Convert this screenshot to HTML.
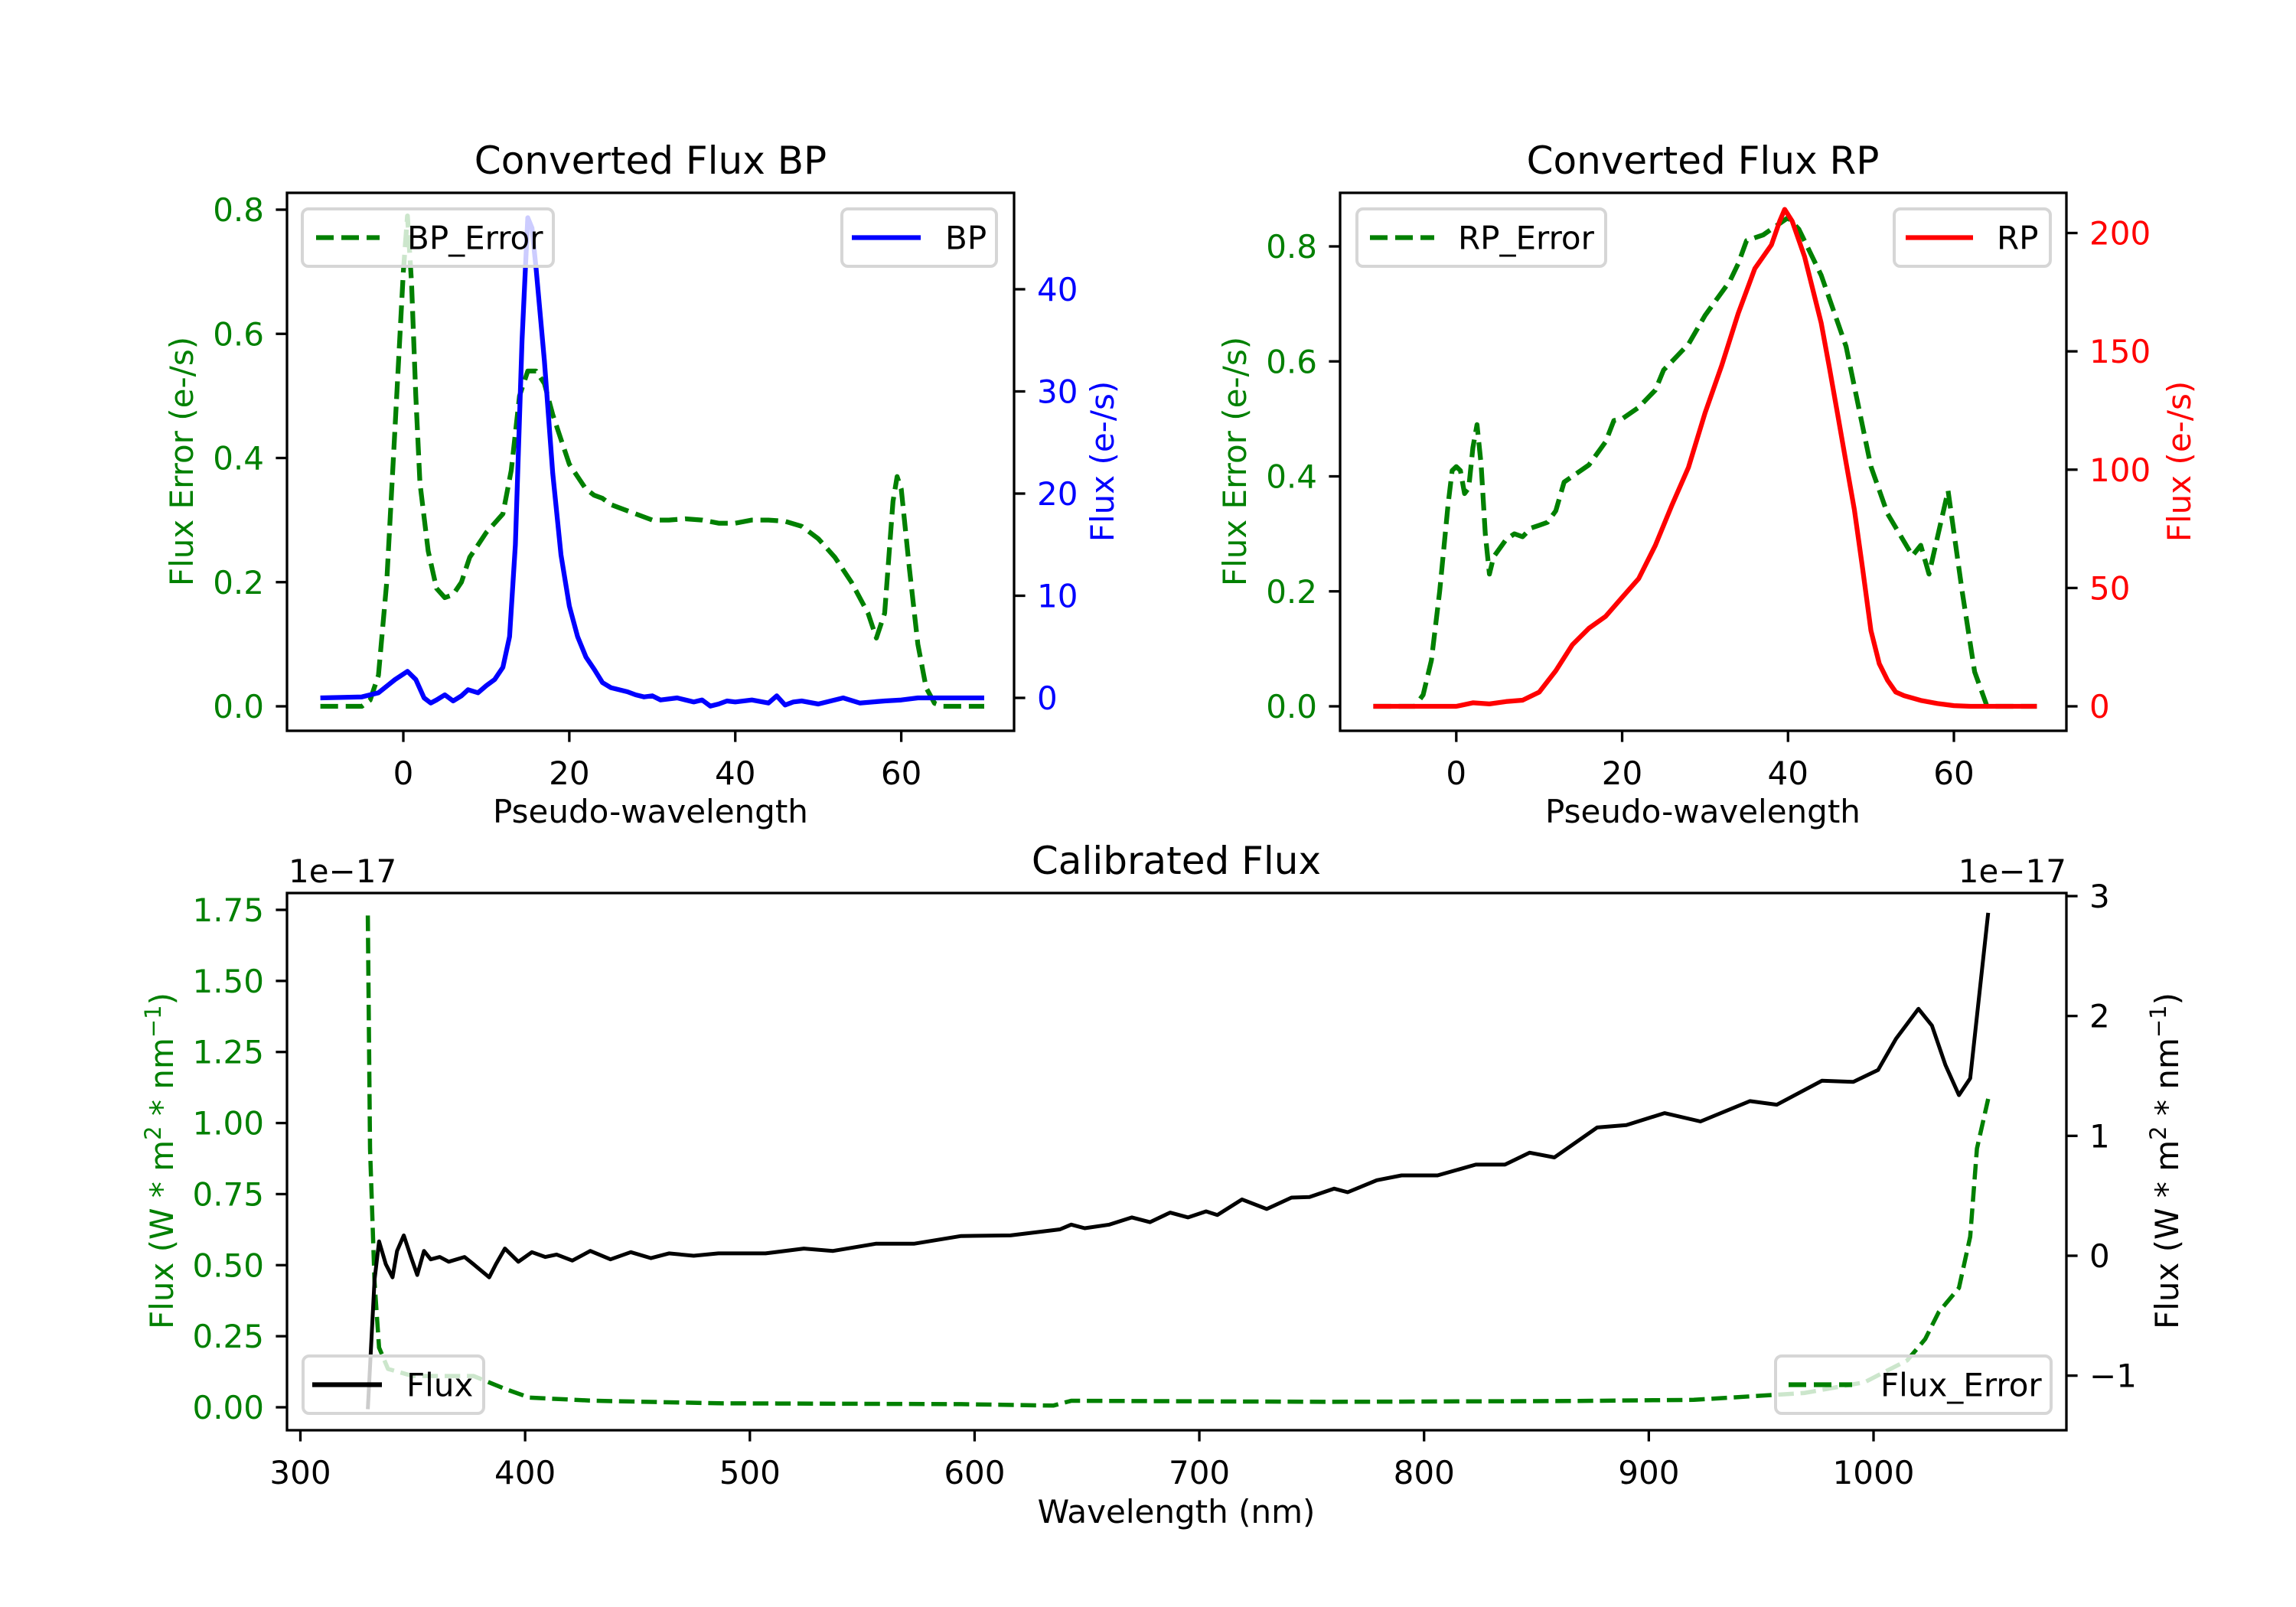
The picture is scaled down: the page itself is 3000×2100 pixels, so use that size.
<!DOCTYPE html>
<html><head><meta charset="utf-8"><style>
html,body{margin:0;padding:0;background:#fff}
svg{display:block;font-family:"DejaVu Sans","Liberation Sans",sans-serif}
</style></head><body>
<svg id="fig" xmlns="http://www.w3.org/2000/svg" width="3000" height="2100" viewBox="0 0 3000 2100">
<rect width="3000" height="2100" fill="#fff"/>
</svg>
<script>
// ---- BP data ----
const bpErrX = [-10,-5,-4,-3,-2,-1,0,0.5,1,1.5,2,3,4,5,6,7,8,9,10,11,12,13,14,15,16,17,18,19,20,21,22,23,24,25,26,28,30,32,34,36,38,40,42,44,46,48,50,52,54,56,57,58,59,59.5,60,61,62,63,64,65,70];
const bpErrY = [0,0,0.01,0.05,0.2,0.45,0.7,0.79,0.68,0.5,0.36,0.25,0.19,0.175,0.18,0.2,0.24,0.26,0.28,0.295,0.31,0.38,0.5,0.54,0.54,0.52,0.47,0.43,0.39,0.37,0.35,0.34,0.335,0.325,0.32,0.31,0.3,0.3,0.302,0.3,0.295,0.295,0.3,0.3,0.298,0.29,0.27,0.24,0.2,0.15,0.11,0.15,0.33,0.37,0.35,0.22,0.1,0.03,0.005,0,0];
const bpFluxX = [-10,-5,-3,-1,0.5,1.5,2.5,3.3,4,5,6,7,7.8,9,10,11,12,12.8,13.5,14.3,15,15.5,16,17,18,19,20,21,22,23,24,25,27,28,29,30,31,33,34,35,36,37,38,39,40,42,44,45,46,47,48,50,53,55,58,60,62,65,70];
const bpFluxY = [0,0.1,0.5,1.8,2.6,1.8,0,-0.5,-0.2,0.3,-0.3,0.2,0.8,0.5,1.2,1.8,3,6,15,35,47,46,42,33,22,14,9,6,4,2.8,1.5,1,0.6,0.3,0.1,0.2,-0.2,0,-0.2,-0.4,-0.2,-0.8,-0.6,-0.3,-0.4,-0.2,-0.5,0.2,-0.7,-0.4,-0.3,-0.6,0,-0.5,-0.3,-0.2,0,0,0];
// ---- RP data ----
const rpErrX = [-10,-5,-4,-3,-2,-1,-0.5,0,0.5,1,1.5,2,2.5,3,3.5,4,4.5,5,6,7,8,9,10,11,12,13,14,16,17,18,19,20,22,24,25,26,28,30,31,32,33,34,35,36,37,38,39,40,41.3,44,47,50,52,55,56,57,59.3,61,62.5,64,70];
const rpErrY = [0,0,0.02,0.08,0.2,0.35,0.41,0.417,0.41,0.37,0.38,0.45,0.49,0.42,0.3,0.23,0.26,0.27,0.29,0.3,0.295,0.31,0.315,0.32,0.34,0.39,0.4,0.42,0.44,0.46,0.497,0.5,0.52,0.55,0.585,0.6,0.63,0.68,0.7,0.72,0.74,0.77,0.81,0.815,0.82,0.83,0.84,0.85,0.83,0.75,0.626,0.417,0.335,0.262,0.28,0.23,0.375,0.2,0.06,0,0];
const rpFluxX = [-10,0,2,4,6,8,10,12,14,16,18,20,22,24,26,28,30,32,34,36,38,39,39.6,40.5,42,44,45,46,47,48,49,50,51,52,53,54,56,58,60,62,70];
const rpFluxY = [0,0,1.5,1,2,2.6,6,15,26,33,38,46,54,68,85,101,124,144,166,185,195,205,210,205,190,162,143,123,103,83,58,32,18,11,6,4.5,2.5,1.2,0.3,0,0];
// ---- Calibrated data (flux in 1e-17) ----
const calFluxX = [330,333,335,338,341,343,346,349,352,355,358,362,366,373,377,384,387,391,397,403,409,414,421,429,438,447,456,464,475,486,507,524,537,556,573,594,616,638,643,649,660,670,678,687,695,703,708,719,730,741,749,760,766,779,790,806,823,836,847,858,877,890,907,923,945,957,977,991,1002,1010,1020,1026,1032,1038,1043,1051];
const calFluxY = [-1.28,-0.2,0.12,-0.07,-0.18,0.04,0.17,0,-0.16,0.04,-0.03,-0.01,-0.05,-0.01,-0.07,-0.18,-0.07,0.06,-0.05,0.03,-0.01,0.01,-0.04,0.04,-0.03,0.03,-0.02,0.02,0,0.02,0.02,0.06,0.04,0.1,0.1,0.165,0.17,0.22,0.26,0.23,0.26,0.32,0.28,0.36,0.32,0.37,0.34,0.47,0.39,0.485,0.49,0.56,0.53,0.63,0.67,0.67,0.76,0.76,0.86,0.82,1.07,1.09,1.19,1.12,1.29,1.26,1.46,1.45,1.55,1.81,2.06,1.92,1.59,1.34,1.48,2.86];
const calErrX = [330,331,333,335,339,350,377,391,402,431,486,594,635,643,757,866,920,969,996,1015,1023,1029,1038,1043,1046,1051];
const calErrY = [1.73,0.91,0.44,0.21,0.135,0.11,0.11,0.065,0.034,0.023,0.014,0.011,0.006,0.023,0.019,0.022,0.026,0.05,0.088,0.165,0.24,0.335,0.42,0.6,0.91,1.085];
// ---- ticks ----
const pseudoTicks = [0,20,40,60];
const bpErrTicks = [0,0.2,0.4,0.6,0.8];
const bpErrTickLabels = ["0.0","0.2","0.4","0.6","0.8"];
const bpFluxTicks = [0,10,20,30,40];
const rpErrTicks = [0,0.2,0.4,0.6,0.8];
const rpErrTickLabels = ["0.0","0.2","0.4","0.6","0.8"];
const rpFluxTicks = [0,50,100,150,200];
const wlTicks = [300,400,500,600,700,800,900,1000];
const calErrTicks = [0,0.25,0.5,0.75,1,1.25,1.5,1.75];
const calErrTickLabels = ["0.00","0.25","0.50","0.75","1.00","1.25","1.50","1.75"];
const calFluxTicks = [-1,0,1,2,3];
const calFluxTickLabels = ["\u22121","0","1","2","3"];

const NS = "http://www.w3.org/2000/svg";
const svg = document.getElementById('fig');
function mk(tag, attrs, parent, text){
  const e = document.createElementNS(NS, tag);
  for (const k in attrs) e.setAttribute(k, attrs[k]);
  if (text !== undefined) e.textContent = text;
  (parent||svg).appendChild(e);
  return e;
}
function lin(d0,d1,r0,r1){ return v => r0 + (v-d0)*(r1-r0)/(d1-d0); }
function pathD(xs, ys, sx, sy){ return xs.map((x,i)=>(i?'L':'M')+sx(x).toFixed(1)+','+sy(ys[i]).toFixed(1)).join(''); }

function axesFrame(L,T,R,B,name){
  const r = mk('rect',{x:L,y:T,width:R-L,height:B-T,fill:'none',stroke:'#000','stroke-width':3.3});
  
  
}
function xTicks(ticks, labels, sx, B, name){
  ticks.forEach((t,i)=>{
    const x = sx(t);
    const l = mk('line',{x1:x,x2:x,y1:B,y2:B+14.6,stroke:'#000','stroke-width':3.3});
    
    
    const tx = mk('text',{x:x,y:B+70,'font-size':42,'text-anchor':'middle',fill:'#000'},svg,labels[i]);
    
    
  });
}
function yTicks(ticks, labels, sy, X, side, color, name){
  ticks.forEach((t,i)=>{
    const y = sy(t);
    const d = side==='left' ? -14.6 : 14.6;
    const l = mk('line',{x1:X,x2:X+d,y1:y,y2:y,stroke:'#000','stroke-width':3.3});
    
    
    const tx = mk('text',{x: side==='left'? X-30 : X+30, y:y+15,'font-size':42,'text-anchor': side==='left'?'end':'start',fill:color},svg,labels[i]);
    
    
  });
}
function series(xs, ys, sx, sy, color, dashed, lw, clipId, name){
  const attrs = {d:pathD(xs,ys,sx,sy),fill:'none',stroke:color,'stroke-width':lw,'stroke-linejoin':'round','clip-path':'url(#'+clipId+')'};
  if (dashed) attrs['stroke-dasharray'] = (3.7*lw)+','+(1.6*lw);
  const p = mk('path',attrs);
  
  
}
function legend(x0,y0,x1,y1,hx0,hx1,tx,label,color,dashed,name){
  const g = mk('g',{});
  
  
  mk('rect',{x:x0,y:y0,width:x1-x0,height:y1-y0,rx:8,fill:'#fff','fill-opacity':0.8,stroke:'#d6d6d6','stroke-width':4},g);
  const hy = (y0+y1)/2;
  const la = {x1:hx0,x2:hx1,y1:hy,y2:hy,stroke:color,'stroke-width':6.25};
  if (dashed) la['stroke-dasharray']='23,10';
  mk('line',la,g);
  mk('text',{x:tx,y:hy+15,'font-size':42,fill:'#000'},g,label);
}
function rotLabel(x,y,txt,color,name,html){
  const t = mk('text',{x:0,y:0,transform:'translate('+x+','+y+') rotate(-90)','font-size':42,'text-anchor':'middle',fill:color});
  if (html) t.innerHTML = html; else t.textContent = txt;
  
  
}
function clip(id,L,T,R,B){
  let defs = svg.querySelector('defs') || mk('defs',{});
  const c = mk('clipPath',{id:id},defs);
  mk('rect',{x:L,y:T,width:R-L,height:B-T},c);
}
function title(x,y,txt,name){
  const t = mk('text',{x:x,y:y,'font-size':50,'text-anchor':'middle',fill:'#000'},svg,txt);
  
  
}

// ===== BP panel =====
(function(){
  const L=375,T=252,R=1325,B=955;
  const sx = lin(0,60,527,1177.6);
  const syL = lin(0,0.8,923,274);
  const syR = lin(0,40,912,378);
  clip('cbp',L,T,R,B);
  series(bpErrX,bpErrY,sx,syL,'#008000',true,6.25,'cbp','bp-error-line');
  series(bpFluxX,bpFluxY,sx,syR,'#0000ff',false,6.25,'cbp','bp-flux-line');
  legend(395,273,723,348,413,496,532,'BP_Error','#008000',true,'bp-error-legend');
  legend(1100,273,1302,348,1113,1203,1235,'BP','#0000ff',false,'bp-legend');
  axesFrame(L,T,R,B,'bp-axes');
  xTicks(pseudoTicks,pseudoTicks.map(String),sx,B,'bp-x');
  yTicks(bpErrTicks,bpErrTickLabels,syL,L,'left','#008000','bp-left-y');
  yTicks(bpFluxTicks,bpFluxTicks.map(String),syR,R,'right','#0000ff','bp-right-y');
  title(850,227,'Converted Flux BP','bp-title');
  const xl = mk('text',{x:850,y:1075,'font-size':42,'text-anchor':'middle',fill:'#000'},svg,'Pseudo-wavelength');
  
  
  rotLabel(252,603,'Flux Error (e-/s)','#008000','bp-left-y-axis-title');
  rotLabel(1455,603,'Flux (e-/s)','#0000ff','bp-right-y-axis-title');
})();

// ===== RP panel =====
(function(){
  const L=1751,T=252,R=2700,B=955;
  const sx = lin(0,60,1902.8,2553);
  const syL = lin(0,0.8,923,322);
  const syR = lin(0,200,923,304.5);
  clip('crp',L,T,R,B);
  series(rpErrX,rpErrY,sx,syL,'#008000',true,6.25,'crp','rp-error-line');
  series(rpFluxX,rpFluxY,sx,syR,'#ff0000',false,6.25,'crp','rp-flux-line');
  legend(1773,273,2098,348,1790,1874,1905,'RP_Error','#008000',true,'rp-error-legend');
  legend(2475,273,2679,348,2490,2578,2609,'RP','#ff0000',false,'rp-legend');
  axesFrame(L,T,R,B,'rp-axes');
  xTicks(pseudoTicks,pseudoTicks.map(String),sx,B,'rp-x');
  yTicks(rpErrTicks,rpErrTickLabels,syL,L,'left','#008000','rp-left-y');
  yTicks(rpFluxTicks,rpFluxTicks.map(String),syR,R,'right','#ff0000','rp-right-y');
  title(2225,227,'Converted Flux RP','rp-title');
  const xl = mk('text',{x:2225,y:1075,'font-size':42,'text-anchor':'middle',fill:'#000'},svg,'Pseudo-wavelength');
  
  
  rotLabel(1628,603,'Flux Error (e-/s)','#008000','rp-left-y-axis-title');
  rotLabel(2862,603,'Flux (e-/s)','#ff0000','rp-right-y-axis-title');
})();

// ===== Calibrated panel =====
(function(){
  const L=375,T=1167,R=2700,B=1869;
  const sx = lin(300,1000,392.5,2448);
  const syL = lin(0,1.75,1839,1189);
  const syR = lin(0,3,1641,1171);
  clip('ccal',L,T,R,B);
  series(calErrX,calErrY,sx,syL,'#008000',true,5.5,'ccal','calibrated-error-line');
  series(calFluxX,calFluxY,sx,syR,'#000000',false,5,'ccal','calibrated-flux-line');
  legend(396,1772,632,1847,408,499,531,'Flux','#000000',false,'flux-legend');
  legend(2320,1772,2680,1847,2337,2420,2457,'Flux_Error','#008000',true,'flux-error-legend');
  axesFrame(L,T,R,B,'calibrated-axes');
  xTicks(wlTicks,wlTicks.map(String),sx,B,'cal-x');
  yTicks(calErrTicks,calErrTickLabels,syL,L,'left','#008000','cal-left-y');
  yTicks(calFluxTicks,calFluxTickLabels,syR,R,'right','#000000','cal-right-y');
  title(1537,1142,'Calibrated Flux','calibrated-title');
  const o1 = mk('text',{x:377,y:1153,'font-size':42,fill:'#000'},svg,'1e\u221217');
  
  
  const o2 = mk('text',{x:2700,y:1153,'font-size':42,'text-anchor':'end',fill:'#000'},svg,'1e\u221217');
  
  
  const xl = mk('text',{x:1537,y:1990,'font-size':42,'text-anchor':'middle',fill:'#000'},svg,'Wavelength (nm)');
  
  
  const lbl = 'Flux (W * m<tspan dy="-16" font-size="29">2</tspan><tspan dy="16"> * nm</tspan><tspan dy="-16" font-size="29">\u22121</tspan><tspan dy="16">)</tspan>';
  rotLabel(226,1517,'',"#008000",'cal-left-y-axis-title',lbl);
  rotLabel(2846,1517,'','#000000','cal-right-y-axis-title',lbl);
})();
</script>
</body></html>
